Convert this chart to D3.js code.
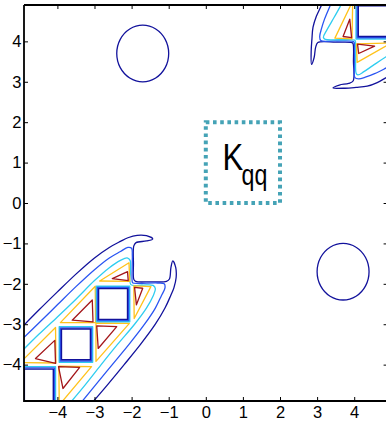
<!DOCTYPE html>
<html><head><meta charset="utf-8">
<script src="https://cdn.jsdelivr.net/npm/d3@7"></script>
<style>body{margin:0;background:#fff}svg{display:block}</style>
</head><body>
<svg id="c" width="386" height="422"></svg>
<script>
// ---------- data ----------
const xTicks = [-4,-3,-2,-1,0,1,2,3,4];
const yTicks = [-4,-3,-2,-1,0,1,2,3,4];
const xDomain = [-4.9, 4.9];
const yDomain = [-4.9, 4.9];

// lowest level closed contours (circles)
const circleA = [[-1.0,3.7],[-1.094,4.05],[-1.35,4.306],[-1.7,4.4],[-2.05,4.306],[-2.306,4.05],[-2.4,3.7],[-2.306,3.35],[-2.05,3.094],[-1.7,3.0],[-1.35,3.094],[-1.094,3.35]];
const circleB = [[3.7,-1.0],[4.05,-1.094],[4.306,-1.35],[4.4,-1.7],[4.306,-2.05],[4.05,-2.306],[3.7,-2.4],[3.35,-2.306],[3.094,-2.05],[3.0,-1.7],[3.094,-1.35],[3.35,-1.094]];

// band contours, lower-left
const navyLL = [[-4.95,-3.07],[-4.5,-2.65],[-4.0,-2.2],[-3.5,-1.76],[-3.0,-1.36],[-2.6,-1.1],[-2.3,-0.95],[-2.1,-0.86],[-1.85,-0.8],[-1.6,-0.81],[-1.43,-0.89],[-1.6,-0.94],[-1.88,-0.98],[-1.94,-1.06],[-1.95,-1.5],[-1.94,-1.89],
  [-1.89,-1.94],[-1.5,-1.95],[-1.06,-1.94],[-0.98,-1.88],[-0.94,-1.6],[-0.89,-1.43],[-0.81,-1.6],[-0.8,-1.85],[-0.86,-2.1],[-0.95,-2.3],[-1.1,-2.6],[-1.36,-3.0],[-1.76,-3.5],[-2.2,-4.0],[-2.65,-4.5],[-3.07,-4.95]];
const blueLL = [[-4.95,-3.37],[-4.5,-2.97],[-4.0,-2.52],[-3.5,-2.07],[-3.0,-1.65],[-2.6,-1.36],[-2.3,-1.2],[-2.1,-1.1],[-2.0,-1.12],[-1.98,-1.3],[-1.98,-1.96],
  [-1.96,-1.98],[-1.3,-1.98],[-1.12,-2.0],[-1.1,-2.1],[-1.2,-2.3],[-1.36,-2.6],[-1.65,-3.0],[-2.07,-3.5],[-2.52,-4.0],[-2.97,-4.5],[-3.37,-4.95]];
const cyanLL = [[-4.95,-3.66],[-4.5,-3.25],[-4.0,-2.82],[-3.5,-2.38],[-3.0,-1.92],[-2.6,-1.6],[-2.3,-1.42],[-2.12,-1.36],[-2.04,-1.42],[-2.03,-1.7],[-2.02,-2.02],
  [-1.7,-2.03],[-1.42,-2.04],[-1.36,-2.12],[-1.42,-2.3],[-1.6,-2.6],[-1.92,-3.0],[-2.38,-3.5],[-2.82,-4.0],[-3.25,-4.5],[-3.66,-4.95]];

// band contours, upper-right corner piece
const navyUR = [[3.3,5.3],[3.12,4.9],[2.98,4.62],[2.89,4.35],[2.86,4.05],[2.84,3.75],[2.85,3.43],[2.92,3.6],[2.96,3.85],[3.02,3.97],[3.5,3.98],[3.94,3.97],
  [3.97,3.94],[3.98,3.5],[3.97,3.02],[3.85,2.96],[3.6,2.92],[3.43,2.85],[3.75,2.84],[4.05,2.86],[4.35,2.89],[4.62,2.98],[4.9,3.12],[5.3,3.3]];
const blueUR = [[3.55,5.3],[3.35,4.88],[3.2,4.55],[3.12,4.32],[3.07,4.12],[3.1,4.02],[3.5,4.01],[3.97,4.0],
  [4.0,3.97],[4.01,3.5],[4.02,3.1],[4.12,3.07],[4.32,3.12],[4.55,3.2],[4.88,3.35],[5.3,3.55]];
const cyanUR = [[3.85,5.3],[3.62,4.86],[3.4,4.5],[3.25,4.26],[3.17,4.1],[3.22,4.05],[3.6,4.04],[4.01,4.03],
  [4.03,4.01],[4.04,3.6],[4.05,3.22],[4.1,3.17],[4.26,3.25],[4.5,3.4],[4.86,3.62],[5.3,3.85]];

// yellow level (closed)
const yellowTri = [
  [[-5.0,-3.95],[-4.05,-3.08],[-4.04,-3.96]],
  [[-3.92,-2.96],[-2.98,-2.06],[-2.97,-2.96]],
  [[-2.86,-1.93],[-2.07,-1.48],[-2.05,-1.94]],
  [[-3.95,-5.0],[-3.08,-4.05],[-3.96,-4.04]],
  [[-2.96,-3.92],[-2.06,-2.98],[-2.96,-2.97]],
  [[-1.93,-2.86],[-1.48,-2.07],[-1.94,-2.05]],
  [[3.96,5.0],[3.48,4.08],[3.94,4.06]],
  [[5.0,3.96],[4.08,3.48],[4.06,3.94]]
];
// top level (closed)
const redTri = [
  [[-4.59,-3.85],[-4.07,-3.40],[-4.05,-3.97]],
  [[-3.6,-2.9],[-3.06,-2.4],[-3.04,-2.94]],
  [[-2.52,-1.87],[-2.11,-1.70],[-2.09,-1.92]],
  [[-3.85,-4.59],[-3.40,-4.07],[-3.97,-4.05]],
  [[-2.9,-3.6],[-2.4,-3.06],[-2.94,-3.04]],
  [[-1.87,-2.52],[-1.70,-2.11],[-1.92,-2.09]],
  [[3.88,4.55],[3.70,4.12],[3.93,4.09]],
  [[4.55,3.88],[4.12,3.70],[4.09,3.93]]
];
// square holes: [x0,x1,y0,y1]
const holes = [
  [-4.95,-4.05,-4.95,-4.05],
  [-3.95,-3.05,-3.94,-3.06],
  [-2.95,-2.05,-2.94,-2.06],
  [4.05,4.95,4.06,4.94]
];
// annotation box
const boxX = [0, 2];
const boxY = [0, 2];
const labelMain = "K", labelSub = "qq";

// ---------- drawing ----------
const PL = 24, PR = 387.6, PT = 5, PB = 401;
const x = d3.scaleLinear().domain(xDomain).range([PL, PR]);
const y = d3.scaleLinear().domain(yDomain).range([PB, PT]);
const color = {navy:"#12129c", blue:"#2a55f2", cyan:"#2fcdf0", yellow:"#ffc21a", red:"#a3161a"};
const svg = d3.select("#c");

svg.append("defs").append("clipPath").attr("id","plot")
  .append("rect").attr("x",PL).attr("y",PT).attr("width",PR-PL).attr("height",PB-PT);

const g = svg.append("g").attr("clip-path","url(#plot)");
const smooth = d3.line().x(d=>x(d[0])).y(d=>y(d[1])).curve(d3.curveCatmullRom.alpha(0.5));
const closedSmooth = d3.line().x(d=>x(d[0])).y(d=>y(d[1])).curve(d3.curveCatmullRomClosed.alpha(0.5));
const closedStraight = d3.line().x(d=>x(d[0])).y(d=>y(d[1])).curve(d3.curveLinearClosed);

function drawPath(gen, data, lvl, w){
  g.append("path").attr("d", gen(data)).attr("fill","none")
   .attr("stroke", color[lvl]).attr("stroke-width", w||1.3).attr("stroke-linejoin","round");
}
drawPath(closedSmooth, circleA, "navy");
drawPath(closedSmooth, circleB, "navy");
[[navyLL,"navy"],[blueLL,"blue"],[cyanLL,"cyan"],[navyUR,"navy"],[blueUR,"blue"],[cyanUR,"cyan"]]
  .forEach(([d,l]) => drawPath(smooth, d, l));
yellowTri.forEach(d => drawPath(closedStraight, d, "yellow"));
redTri.forEach(d => drawPath(closedStraight, d, "red"));
holes.forEach(h => {
  [["cyan",0],["blue",0.03],["navy",0.06]].forEach(([lvl,inset]) => {
    const r = [[h[0]+inset,h[2]+inset],[h[1]-inset,h[2]+inset],[h[1]-inset,h[3]-inset],[h[0]+inset,h[3]-inset]];
    drawPath(closedStraight, r, lvl, 1.4);
  });
});

// annotation box
svg.append("rect")
  .attr("x", x(boxX[0])).attr("y", y(boxY[1]))
  .attr("width", x(boxX[1]) - x(boxX[0])).attr("height", y(boxY[0]) - y(boxY[1]))
  .attr("fill","none").attr("stroke","#45a3b6").attr("stroke-width",4)
  .attr("stroke-dasharray","3.6,3.6");
const font = "'Liberation Sans Narrow','Arial Narrow','Liberation Sans',Arial,sans-serif";
svg.append("g").attr("transform","translate(222.5,170) scale(0.84,1)")
  .append("text").attr("font-family",font).attr("font-size",37).text(labelMain);
svg.append("g").attr("transform","translate(241.5,185) scale(0.8,1)")
  .append("text").attr("font-family",font).attr("font-size",29).text(labelSub);

// axes
const fmt = d3.format("d");
const ax = svg.append("g").attr("font-family",font);
ax.append("g").attr("transform",`translate(0,${PB})`)
  .call(d3.axisBottom(x).tickValues(xTicks).tickFormat(fmt).tickSizeInner(-4).tickSizeOuter(0).tickPadding(5.5));
ax.append("g").attr("transform",`translate(${PL},0)`)
  .call(d3.axisLeft(y).tickValues(yTicks).tickFormat(fmt).tickSizeInner(-4).tickSizeOuter(0).tickPadding(2.5));
ax.append("g").attr("transform",`translate(0,${PT})`)
  .call(d3.axisTop(x).tickValues(xTicks).tickFormat("").tickSizeInner(-4).tickSizeOuter(0));
ax.append("g").attr("transform",`translate(${PR},0)`)
  .call(d3.axisRight(y).tickValues(yTicks).tickFormat("").tickSizeInner(-4).tickSizeOuter(0));
ax.selectAll(".domain").remove();
ax.selectAll(".tick line").attr("stroke","#000").attr("stroke-width",1);
ax.selectAll(".tick text").attr("font-size",16.5).attr("fill","#000").attr("font-family",font);
ax.append("path").attr("d",`M${PL},${PT}H${PR}M${PL},${PT}V${PB}H${PR}V${PT}`)
  .attr("fill","none").attr("stroke","#000").attr("stroke-width",1.8);
</script>
</body></html>
